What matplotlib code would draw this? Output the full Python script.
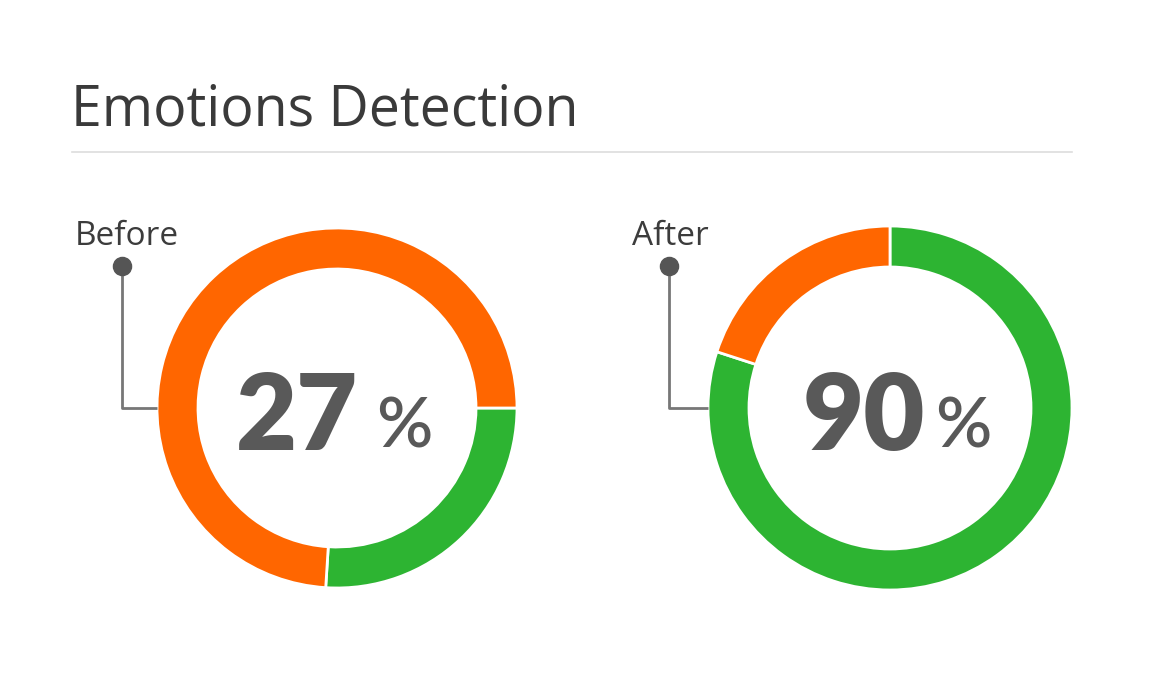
import matplotlib
matplotlib.use("Agg")
import matplotlib.pyplot as plt

# chart data
panels = ["Before", "After"]
detected = [26, 80]        # green share of each ring
missed = [74, 20]          # orange share of each ring
shown_pct = ["27", "90"]   # numbers written in the middle
start_angles = [0, 90]

GREEN = "#2db432"
ORANGE = "#ff6600"
TEXT = "#595959"
W, H = 1149, 688

plt.rcParams['font.family'] = ['Open Sans', 'DejaVu Sans']
NUM_FONT = ['Lato', 'DejaVu Sans']

fig = plt.figure(figsize=(W / 100, H / 100), dpi=100)
ax = fig.add_axes([0, 0, 1, 1])

# ring geometry in pixels (y measured from the top of the picture)
centers = [(337, 408), (890, 408)]
radius = [180, 182]
ring = 41
num_right = [358, 925]
pct_left = [376, 935]
dot_x = [122, 669]
label_x = [75, 632]

def Y(y):
    return H - y

for i, name in enumerate(panels):
    cx, cy = centers[i]
    ax.pie([detected[i], missed[i]], colors=[GREEN, ORANGE], startangle=start_angles[i],
           counterclock=False, center=(cx, Y(cy)), radius=radius[i],
           wedgeprops=dict(width=ring, edgecolor="white", linewidth=2))

    # big number plus smaller percent sign
    ax.text(num_right[i], Y(450), shown_pct[i], fontsize=76, fontweight="heavy",
            family=NUM_FONT, color=TEXT, ha="right", va="baseline")
    ax.text(pct_left[i], Y(448), "%", fontsize=50, color=TEXT, family=NUM_FONT,
            ha="left", va="baseline", fontweight="semibold")

    # leader line with dot and label
    lx = dot_x[i]
    ax.plot([lx, lx, cx - radius[i]], [Y(267), Y(cy), Y(cy)], color="#777777", lw=2,
            solid_capstyle="butt", zorder=3)
    ax.scatter([lx], [Y(266)], s=170, color="#555555", zorder=4)
    ax.text(label_x[i], Y(245), name, fontsize=24, color="#3c3c3c",
            ha="left", va="baseline")

# title and divider
ax.text(71, Y(125), "Emotions Detection", fontsize=40, color="#3a3a3a",
        ha="left", va="baseline")
ax.plot([72, 1072], [Y(152), Y(152)], color="#dddddd", lw=1.2)

ax.set_xlim(0, W)
ax.set_ylim(0, H)
ax.set_aspect("equal")
ax.axis("off")

fig.savefig("out.png", dpi=100, facecolor="white")
